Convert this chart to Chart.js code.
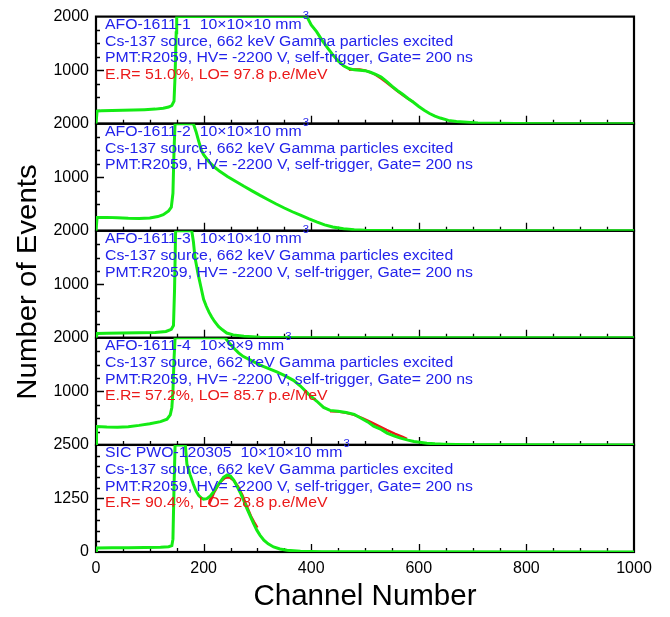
<!DOCTYPE html>
<html>
<head>
<meta charset="utf-8">
<script src="https://cdn.jsdelivr.net/npm/chart.js@4.4.0/dist/chart.umd.min.js"></script>
<style>
  html, body { margin: 0; padding: 0; background: #fff; }
  #wrap { width: 670px; height: 617px; }
</style>
</head>
<body>
<div id="wrap"><canvas id="spectra" width="670" height="617"></canvas></div>
<script>
// counts, panel by panel (top to bottom)
// values at the top of a panel are drawn clipped there, so they are kept at the clip level
const ch1  = [0, 2, 10, 30, 50, 70, 90, 110, 125, 135, 141, 145, 147, 149, 150, 380, 392, 400, 410, 420, 430, 440, 450, 460, 470, 480, 490, 500, 510, 520, 530, 540, 550, 560, 570, 580, 590, 600, 610, 620, 630, 640, 655, 670, 690, 710, 740, 780, 850, 1000];
const cnt1 = [0, 235, 240, 245, 250, 255, 262, 272, 290, 310, 340, 420, 900, 1700, 2000, 2000, 2000, 1845, 1720, 1560, 1420, 1290, 1170, 1080, 1030, 1005, 1000, 990, 960, 920, 870, 790, 700, 620, 550, 470, 400, 320, 250, 190, 140, 105, 62, 40, 28, 15, 7, 3, 1, 0];

const ch2  = [0, 2, 20, 40, 60, 80, 100, 115, 125, 135, 140, 143, 145, 147, 181, 186, 191, 196, 200, 210, 220, 230, 245, 260, 275, 290, 305, 320, 335, 350, 365, 380, 395, 410, 425, 440, 460, 480, 500, 530, 600, 700, 1000];
const cnt2 = [0, 250, 250, 245, 235, 230, 240, 265, 300, 370, 440, 700, 1500, 2000, 2000, 1850, 1670, 1500, 1420, 1290, 1190, 1110, 1010, 920, 830, 745, 660, 580, 500, 425, 355, 290, 225, 165, 110, 70, 38, 20, 10, 5, 2, 1, 0];

const ch3  = [0, 2, 20, 50, 80, 110, 130, 140, 144, 146, 148, 178, 181, 184, 190, 195, 200, 205, 210, 215, 220, 228, 235, 243, 255, 275, 305, 340, 400, 1000];
const cnt3 = [0, 80, 85, 90, 95, 100, 120, 160, 230, 900, 2000, 2000, 1800, 1500, 1180, 950, 720, 590, 480, 390, 310, 210, 150, 90, 55, 30, 13, 5, 2, 0];

const ch4  = [0, 1, 20, 40, 60, 80, 100, 120, 132, 138, 141, 143, 145, 147, 240, 248, 256, 265, 274, 290, 305, 320, 336, 350, 367, 380, 395, 410, 423, 435, 450, 465, 480, 491, 505, 516, 530, 541, 555, 566, 580, 591, 605, 615, 630, 646, 670, 700, 760, 1000];
const cnt4 = [0, 345, 335, 330, 340, 365, 395, 435, 480, 560, 700, 1000, 1600, 2000, 2000, 1900, 1810, 1720, 1650, 1570, 1490, 1430, 1365, 1300, 1206, 1100, 950, 820, 700, 645, 630, 605, 570, 508, 430, 349, 290, 222, 165, 127, 90, 64, 45, 32, 20, 13, 6, 3, 1, 0];

const ch5  = [0, 1, 30, 60, 90, 120, 135, 141, 143, 145, 147, 166, 169, 175, 181, 186, 191, 196, 200, 206, 212, 218, 225, 231, 237, 244, 250, 256, 262, 268, 274, 280, 287, 293, 299, 305, 312, 320, 330, 342, 355, 380, 420, 500, 1000];
const cnt5 = [0, 95, 100, 100, 105, 110, 125, 150, 300, 1500, 2500, 2500, 2050, 1800, 1580, 1420, 1320, 1260, 1235, 1245, 1300, 1400, 1530, 1640, 1740, 1800, 1775, 1680, 1540, 1390, 1220, 1030, 830, 660, 510, 390, 276, 190, 118, 70, 39, 16, 8, 3, 0];

// gaussian fits (red)
const fitCh1  = [470, 480, 490, 500, 510, 520, 530, 540, 550, 560, 570, 580, 590];
const fitCnt1 = [1005, 1015, 1015, 995, 960, 910, 845, 770, 690, 610, 535, 465, 405];
const fitCh4  = [435, 450, 465, 480, 495, 510, 525, 540, 555, 570, 578];
const fitCnt4 = [630, 622, 600, 560, 500, 430, 355, 280, 210, 150, 115];
const fitCh5  = [210, 220, 230, 240, 248, 256, 264, 272, 280, 288, 294, 300];
const fitCnt5 = [1110, 1400, 1620, 1730, 1745, 1670, 1530, 1330, 1080, 840, 700, 570];

const panelNames = ['AFO-1611-1', 'AFO-1611-2', 'AFO-1611-3', 'AFO-1611-4', 'SIC PWO-120305'];
const panelSizes = ['10×10×10 mm', '10×10×10 mm', '10×10×10 mm', '10×9×9 mm', '10×10×10 mm'];
const panelFits = ['E.R= 51.0%, LO= 97.8 p.e/MeV', null, null, 'E.R= 57.2%, LO= 85.7 p.e/MeV', 'E.R= 90.4%, LO= 28.8 p.e/MeV'];
const sourceText = 'Cs-137 source, 662 keV Gamma particles excited';
const pmtText = 'PMT:R2059, HV= -2200 V, self-trigger, Gate= 200 ns';
const yMax  = [2000, 2000, 2000, 2000, 2500];
const yStep = [1000, 1000, 1000, 1000, 1250];

const yIds = ['y1', 'y2', 'y3', 'y4', 'y5'];
const FONT = '"Liberation Sans", Arial, Helvetica, sans-serif';
const GREEN = 'rgb(20,235,20)';
const RED = 'rgb(235,25,25)';
const BLUE = 'rgb(35,35,235)';

function toPoints(xs, ys) {
  return xs.map((x, i) => ({ x: x, y: ys[i] }));
}

const spectra = [[ch1, cnt1], [ch2, cnt2], [ch3, cnt3], [ch4, cnt4], [ch5, cnt5]];
const fits = [[fitCh1, fitCnt1, 'y1'], [fitCh4, fitCnt4, 'y4'], [fitCh5, fitCnt5, 'y5']];

let datasets = [];
spectra.forEach((s, i) => {
  datasets.push({
    data: toPoints(s[0], s[1]),
    yAxisID: yIds[i],
    borderColor: GREEN,
    borderWidth: 3,
    pointRadius: 0,
    tension: 0,
    fill: false
  });
});
fits.forEach(f => {
  datasets.push({
    data: toPoints(f[0], f[1]),
    yAxisID: f[2],
    borderColor: RED,
    borderWidth: 2.4,
    pointRadius: 0,
    tension: 0,
    fill: false
  });
});

let scales = {
  x: {
    type: 'linear',
    min: 0,
    max: 1000,
    grid: { display: false, drawTicks: false },
    border: { display: false },
    ticks: { stepSize: 200, color: '#000', padding: 7, font: { family: FONT, size: 16 }, maxRotation: 0, callback: v => String(v) },
    title: { display: true, text: 'Channel Number', color: '#000', font: { family: FONT, size: 29.5 }, padding: { top: 0, bottom: 2 } },
    afterFit: scale => { scale.height = 65; }
  }
};
// stacked axes are laid out bottom-up, so the bottom panel goes in first
for (let i = yIds.length - 1; i >= 0; i--) {
  scales[yIds[i]] = {
    type: 'linear',
    position: 'left',
    stack: 'panels',
    stackWeight: 1,
    min: 0,
    max: yMax[i],
    grid: { display: false, drawTicks: false },
    border: { display: false },
    ticks: {
      stepSize: yStep[i],
      color: '#000',
      padding: 7,
      font: { family: FONT, size: 16 },
      callback: v => (v === 0 && i < 4) ? '' : String(v)
    },
    afterFit: scale => { scale.width = 96; }
  };
}

// frames and inside ticks go under the spectra, the text goes over them
const panelPlugin = {
  id: 'panelPlugin',
  beforeDatasetsDraw(chart) {
    const ctx = chart.ctx;
    const xs = chart.scales.x;
    ctx.save();
    ctx.strokeStyle = '#000';
    yIds.forEach((id, i) => {
      const ys = chart.scales[id];
      const top = ys.top, bottom = ys.bottom;
      ctx.lineWidth = 1.3;
      ctx.beginPath();
      for (let v = 50; v < 1000; v += 50) {
        const px = Math.round(xs.getPixelForValue(v)) + 0.5;
        const len = v % 200 === 0 ? 8 : 4;
        ctx.moveTo(px, bottom);
        ctx.lineTo(px, bottom - len);
      }
      for (let v = 250; v < yMax[i]; v += 250) {
        const py = Math.round(ys.getPixelForValue(v)) + 0.5;
        const len = v % yStep[i] === 0 ? 8 : 4;
        ctx.moveTo(xs.left, py);
        ctx.lineTo(xs.left + len, py);
      }
      ctx.stroke();
      ctx.lineWidth = 2.2;
      ctx.strokeRect(xs.left, top, xs.right - xs.left, bottom - top);
    });
    ctx.restore();
  },
  afterDatasetsDraw(chart) {
    const ctx = chart.ctx;
    const xs = chart.scales.x;
    ctx.save();
    yIds.forEach((id, i) => {
      const ys = chart.scales[id];
      const tx = xs.left + 9;
      const ty = ys.top + 8.5;
      const lines = [[panelNames[i] + '  ' + panelSizes[i], BLUE], [sourceText, BLUE], [pmtText, BLUE]];
      if (panelFits[i]) lines.push([panelFits[i], RED]);
      ctx.textBaseline = 'middle';
      ctx.textAlign = 'left';
      lines.forEach((l, k) => {
        ctx.save();
        ctx.translate(tx, ty + k * 16.7);
        ctx.scale(1.13, 1);
        ctx.font = '14px ' + FONT;
        ctx.fillStyle = l[1];
        ctx.fillText(l[0], 0, 0);
        if (k === 0) {
          const w = ctx.measureText(l[0]).width;
          ctx.font = '10px ' + FONT;
          ctx.fillText('3', w + 1, -9);
        }
        ctx.restore();
      });
    });
    // y title
    ctx.translate(28, 282);
    ctx.rotate(-Math.PI / 2);
    ctx.scale(1.05, 1);
    ctx.font = '28px ' + FONT;
    ctx.fillStyle = '#000';
    ctx.textAlign = 'center';
    ctx.textBaseline = 'middle';
    ctx.fillText('Number of Events', 0, 0);
    ctx.restore();
  }
};

new Chart(document.getElementById('spectra'), {
  type: 'line',
  data: { datasets: datasets },
  options: {
    responsive: false,
    animation: false,
    devicePixelRatio: 1,
    layout: { padding: { top: 15, right: 36, left: 0, bottom: 0 } },
    plugins: { legend: { display: false }, tooltip: { enabled: false } },
    scales: scales
  },
  plugins: [panelPlugin]
});
</script>
</body>
</html>
